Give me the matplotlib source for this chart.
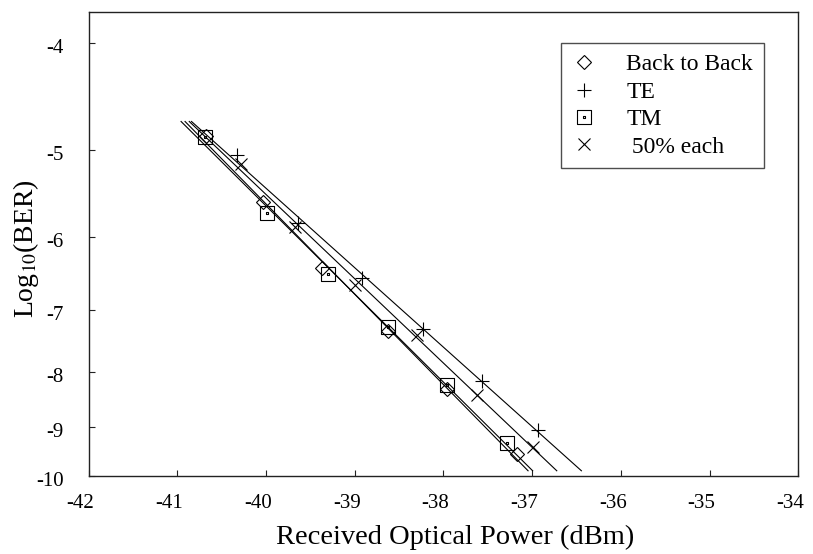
import matplotlib
matplotlib.use("Agg")
import matplotlib.pyplot as plt
import matplotlib.path as mpath
from matplotlib.transforms import ScaledTranslation
import numpy as np

plt.rcParams['font.family'] = ['Liberation Serif', 'DejaVu Serif']
plt.rcParams['mathtext.fontset'] = 'stix'
plt.rcParams['axes.unicode_minus'] = False

# received power (dBm) and log10(BER)
b2b_x = [-40.68, -40.03, -39.37, -38.63, -37.96, -37.17]
b2b_y = [-4.85, -5.58, -6.41, -7.32, -8.30, -9.54]

te_x = [-40.33, -39.64, -38.92, -38.23, -37.57, -36.93]
te_y = [-5.05, -5.83, -6.54, -7.30, -8.15, -9.05]

tm_x = [-40.69, -39.99, -39.30, -38.62, -37.96, -37.28]
tm_y = [-4.86, -5.71, -6.49, -7.26, -8.22, -9.31]

half_x = [-40.28, -39.67, -39.00, -38.30, -37.62, -36.99]
half_y = [-5.15, -5.88, -6.64, -7.39, -8.40, -9.39]

x_ticks = [-42, -41, -40, -39, -38, -37, -36, -35, -34]
y_ticks = [-10, -9, -8, -7, -6, -5, -4]

# power of -log10(BER) that makes the BER axis straight
P = -0.05


def fwd(y):
    y = np.asarray(y, dtype=float)
    return np.power(np.clip(-y, 1e-3, None), P)


def inv(t):
    t = np.asarray(t, dtype=float)
    return -np.power(np.clip(t, 1e-3, None), 1.0 / P)


# square with a dot in the middle (TM marker)
def dotted_square():
    s = 1.0
    d = 0.1
    verts = [(-s, -s), (s, -s), (s, s), (-s, s), (-s, -s),
             (-d, -d), (d, -d), (d, d), (-d, d), (-d, -d)]
    codes = [mpath.Path.MOVETO] + [mpath.Path.LINETO] * 3 + [mpath.Path.CLOSEPOLY]
    codes = codes * 2
    return mpath.Path(verts, codes)


fig = plt.figure(figsize=(8.13, 5.54), dpi=100)
ax = fig.add_axes([0.109, 0.141, 0.873, 0.837])
ax.set_yscale('function', functions=(fwd, inv))

series = [
    (b2b_x, b2b_y, 'D', 7.5, 'Back to Back'),
    (te_x, te_y, '+', 10, 'TE'),
    (tm_x, tm_y, dotted_square(), 9.5, 'TM'),
    (half_x, half_y, 'x', 9, ' 50% each'),
]

y_top, y_bot = -4.71, -9.89
for xs, ys, m, ms, lab in series:
    ax.plot(xs, ys, linestyle='none', marker=m, markersize=ms,
            markerfacecolor='none', markeredgecolor='black',
            markeredgewidth=0.8, color='black', label=lab)
    # straight-line fit on the BER scale
    coef = np.polyfit(xs, fwd(ys), 1)
    t_end = fwd([y_top, y_bot])
    x_end = (t_end - coef[1]) / coef[0]
    ax.plot(x_end, [y_top, y_bot], color='black', linewidth=0.8)

ax.set_xlim(-42, -34)
ax.set_ylim(-10, -3.755)
ax.set_xticks(x_ticks)
ax.set_xticklabels([str(v) for v in x_ticks])
ax.set_yticks(y_ticks)
ax.set_yticklabels([str(v) for v in y_ticks])
ax.minorticks_off()
ax.tick_params(direction='in', length=4, labelsize=15, color='#222222')
ax.tick_params(axis='x', pad=13)
ax.tick_params(axis='y', pad=18)

# labels in the original sit a little off their ticks
for lbl in ax.get_xticklabels():
    lbl.set_transform(lbl.get_transform() +
                      ScaledTranslation(-8 / 100, 0, fig.dpi_scale_trans))
for lbl in ax.get_yticklabels():
    lbl.set_transform(lbl.get_transform() +
                      ScaledTranslation(0, -3 / 100, fig.dpi_scale_trans))

for sp in ax.spines.values():
    sp.set_color('#222222')
    sp.set_linewidth(1.0)

ax.set_xlabel('Received Optical Power (dBm)', fontsize=20.5)
ax.xaxis.set_label_coords(0.517, -0.106)
ax.set_ylabel('Log$_{10}$(BER)', fontsize=20)
ax.yaxis.set_label_coords(-0.067, 0.49)

leg = ax.legend(loc='upper right', bbox_to_anchor=(0.951, 0.933),
                borderaxespad=0, fontsize=17, frameon=True, fancybox=False,
                edgecolor='#222222', handlelength=1.0, handletextpad=1.3,
                labelspacing=0.25, borderpad=0.45)
leg.get_frame().set_linewidth(1.0)

plt.savefig('out.png', dpi=100)
